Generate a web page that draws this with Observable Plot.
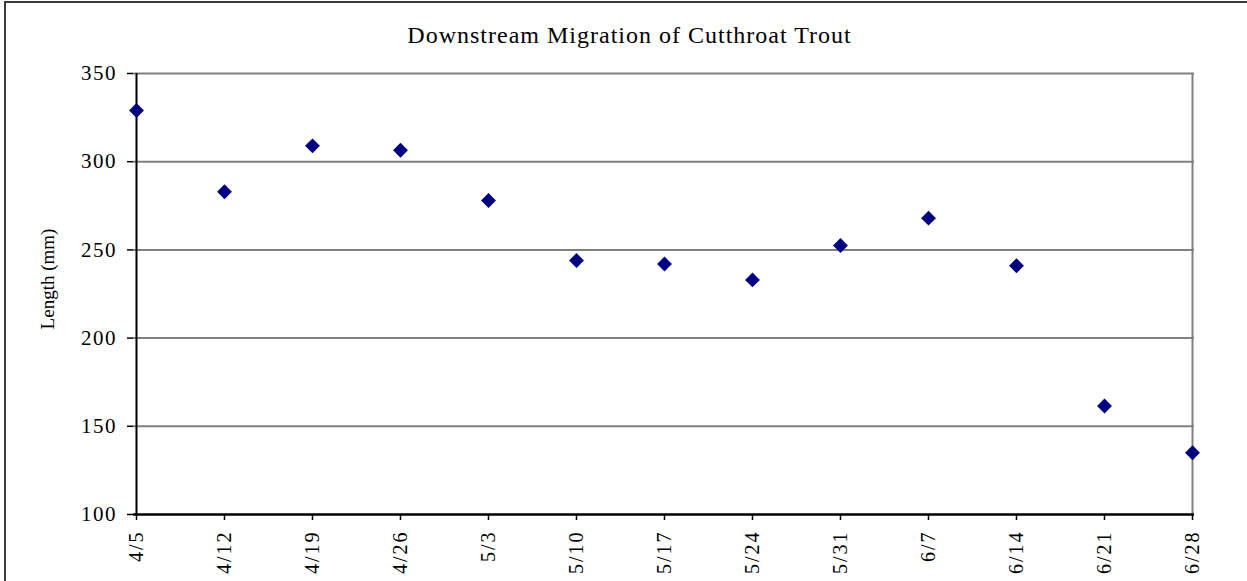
<!DOCTYPE html>
<html>
<head>
<meta charset="utf-8">
<script src="https://cdn.jsdelivr.net/npm/d3@7"></script>
<script src="https://cdn.jsdelivr.net/npm/@observablehq/plot@0.6"></script>
<style>
  html, body { margin: 0; padding: 0; background: #fff; overflow: hidden; }
  #wrap { position: relative; width: 1247px; height: 581px; overflow: hidden; font-family: "Liberation Serif", "Times New Roman", serif; }
  #border { position: absolute; left: 4px; top: 1px; width: 1300px; height: 650px; border: 2px solid #3c3c3c; box-sizing: border-box; }
  #title { position: absolute; top: 22px; left: 629.5px; transform: translateX(-50%); font-size: 24px; letter-spacing: 1px; white-space: nowrap; color: #000; }
  #chart { position: absolute; left: 0; top: 0; }
</style>
</head>
<body>
<div id="wrap">
  <div id="border"></div>
  <div id="title">Downstream Migration of Cutthroat Trout</div>
  <div id="chart"></div>
</div>
<script>
const dates = ["4/5","4/12","4/19","4/26","5/3","5/10","5/17","5/24","5/31","6/7","6/14","6/21","6/28"];
const lengths = [329, 283, 309, 306.5, 278, 244, 242, 233, 252.5, 268, 241, 161.5, 135];
const yTicks = [100, 150, 200, 250, 300, 350];
const gridTicks = [150, 200, 250, 300, 350];
const yLabel = "Length (mm)";

const data = dates.map((d, i) => ({date: d, length: lengths[i]}));

const chart = Plot.plot({
  width: 1247,
  height: 581,
  marginLeft: 133,
  marginRight: 53,
  marginTop: 73,
  marginBottom: 67,
  style: {fontFamily: "'Liberation Serif', 'Times New Roman', serif", fontSize: "20px", background: "transparent", color: "#000", overflow: "visible"},
  x: {type: "point", domain: dates, padding: 0},
  y: {domain: [100, 350]},
  marks: [
    Plot.ruleY(gridTicks, {stroke: "#808080", strokeWidth: 2}),
    Plot.ruleX([dates[dates.length - 1]], {stroke: "#808080", strokeWidth: 2}),
    Plot.axisY(yTicks, {tickSize: 6, tickPadding: 10.5, stroke: "#000", strokeWidth: 1.5, label: null, fontSize: 21}),
    Plot.axisX(dates, {tickSize: 6, tickPadding: 10, tickRotate: -90, stroke: "#000", strokeWidth: 1.5, label: null, fontSize: 20}),
    Plot.ruleX([dates[0]], {stroke: "#000", strokeWidth: 2}),
    Plot.ruleY([100], {stroke: "#000", strokeWidth: 2.5}),
    Plot.dot(data, {x: "date", y: "length", symbol: "diamond2", r: 6.7, fill: "#000080", stroke: "none"}),
    Plot.text([yLabel], {frameAnchor: "left", textAnchor: "middle", dx: -86, dy: -15, rotate: -90, text: d => d, fontSize: 19, fill: "#000"})
  ]
});
d3.select(chart).selectAll('[aria-label="y-axis tick label"] text').style("letter-spacing", "1.5px");
d3.select(chart).selectAll('[aria-label="x-axis tick label"] text').style("letter-spacing", "2px");
document.getElementById("chart").appendChild(chart);
</script>
</body>
</html>
